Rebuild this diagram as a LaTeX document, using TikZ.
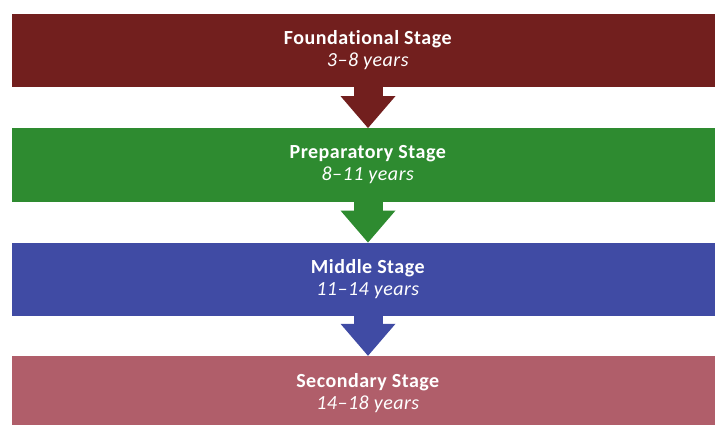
\documentclass[tikz,border=0pt]{standalone}
\usepackage{fontspec}
\setmainfont{Carlito}[Ligatures={TeX,NoCommon},LetterSpace=2.5]
\usetikzlibrary{arrows.meta}
\definecolor{foundred}{RGB}{114,31,30}
\definecolor{prepgreen}{RGB}{46,139,48}
\definecolor{midblue}{RGB}{64,75,164}
\definecolor{secpink}{RGB}{176,94,106}
% one wide band per stage, and a fat arrow down to the next one
\tikzset{stagebox/.style={fill=#1, text=white, minimum width=712pt, minimum height=73.5pt,
                          align=center, inner sep=0pt, font=\fontsize{20}{22}\selectfont},
         stagearrow/.style={draw=#1, line width=29pt,
                            -{Triangle[width=55pt,length=32pt,line width=0pt,fill=#1]}}}

\begin{document}
\begin{tikzpicture}[x=1pt,y=-1pt] % y goes down, 1 unit = 1pt
\clip (0,0) rectangle (715,424); % bands run off the right and bottom edge
\node[stagebox=foundred] (found) at (368,50.5)  {\textbf{Foundational Stage}\\\textit{3--8 years}};
\node[stagebox=prepgreen] (prep) at (368,165)   {\textbf{Preparatory Stage}\\\textit{8--11 years}};
\node[stagebox=midblue] (mid)    at (368,279.5) {\textbf{Middle Stage}\\\textit{11--14 years}};
\node[stagebox=secpink] (sec)    at (368,392.75) {\textbf{Secondary Stage}\\\textit{14--18 years}};
% arrows take the colour of the band they leave
\draw[stagearrow=foundred] (found.south) -- (prep.north);
\draw[stagearrow=prepgreen] (prep.south) -- (mid.north);
\draw[stagearrow=midblue] (mid.south) -- (sec.north);
\end{tikzpicture}
\end{document}
